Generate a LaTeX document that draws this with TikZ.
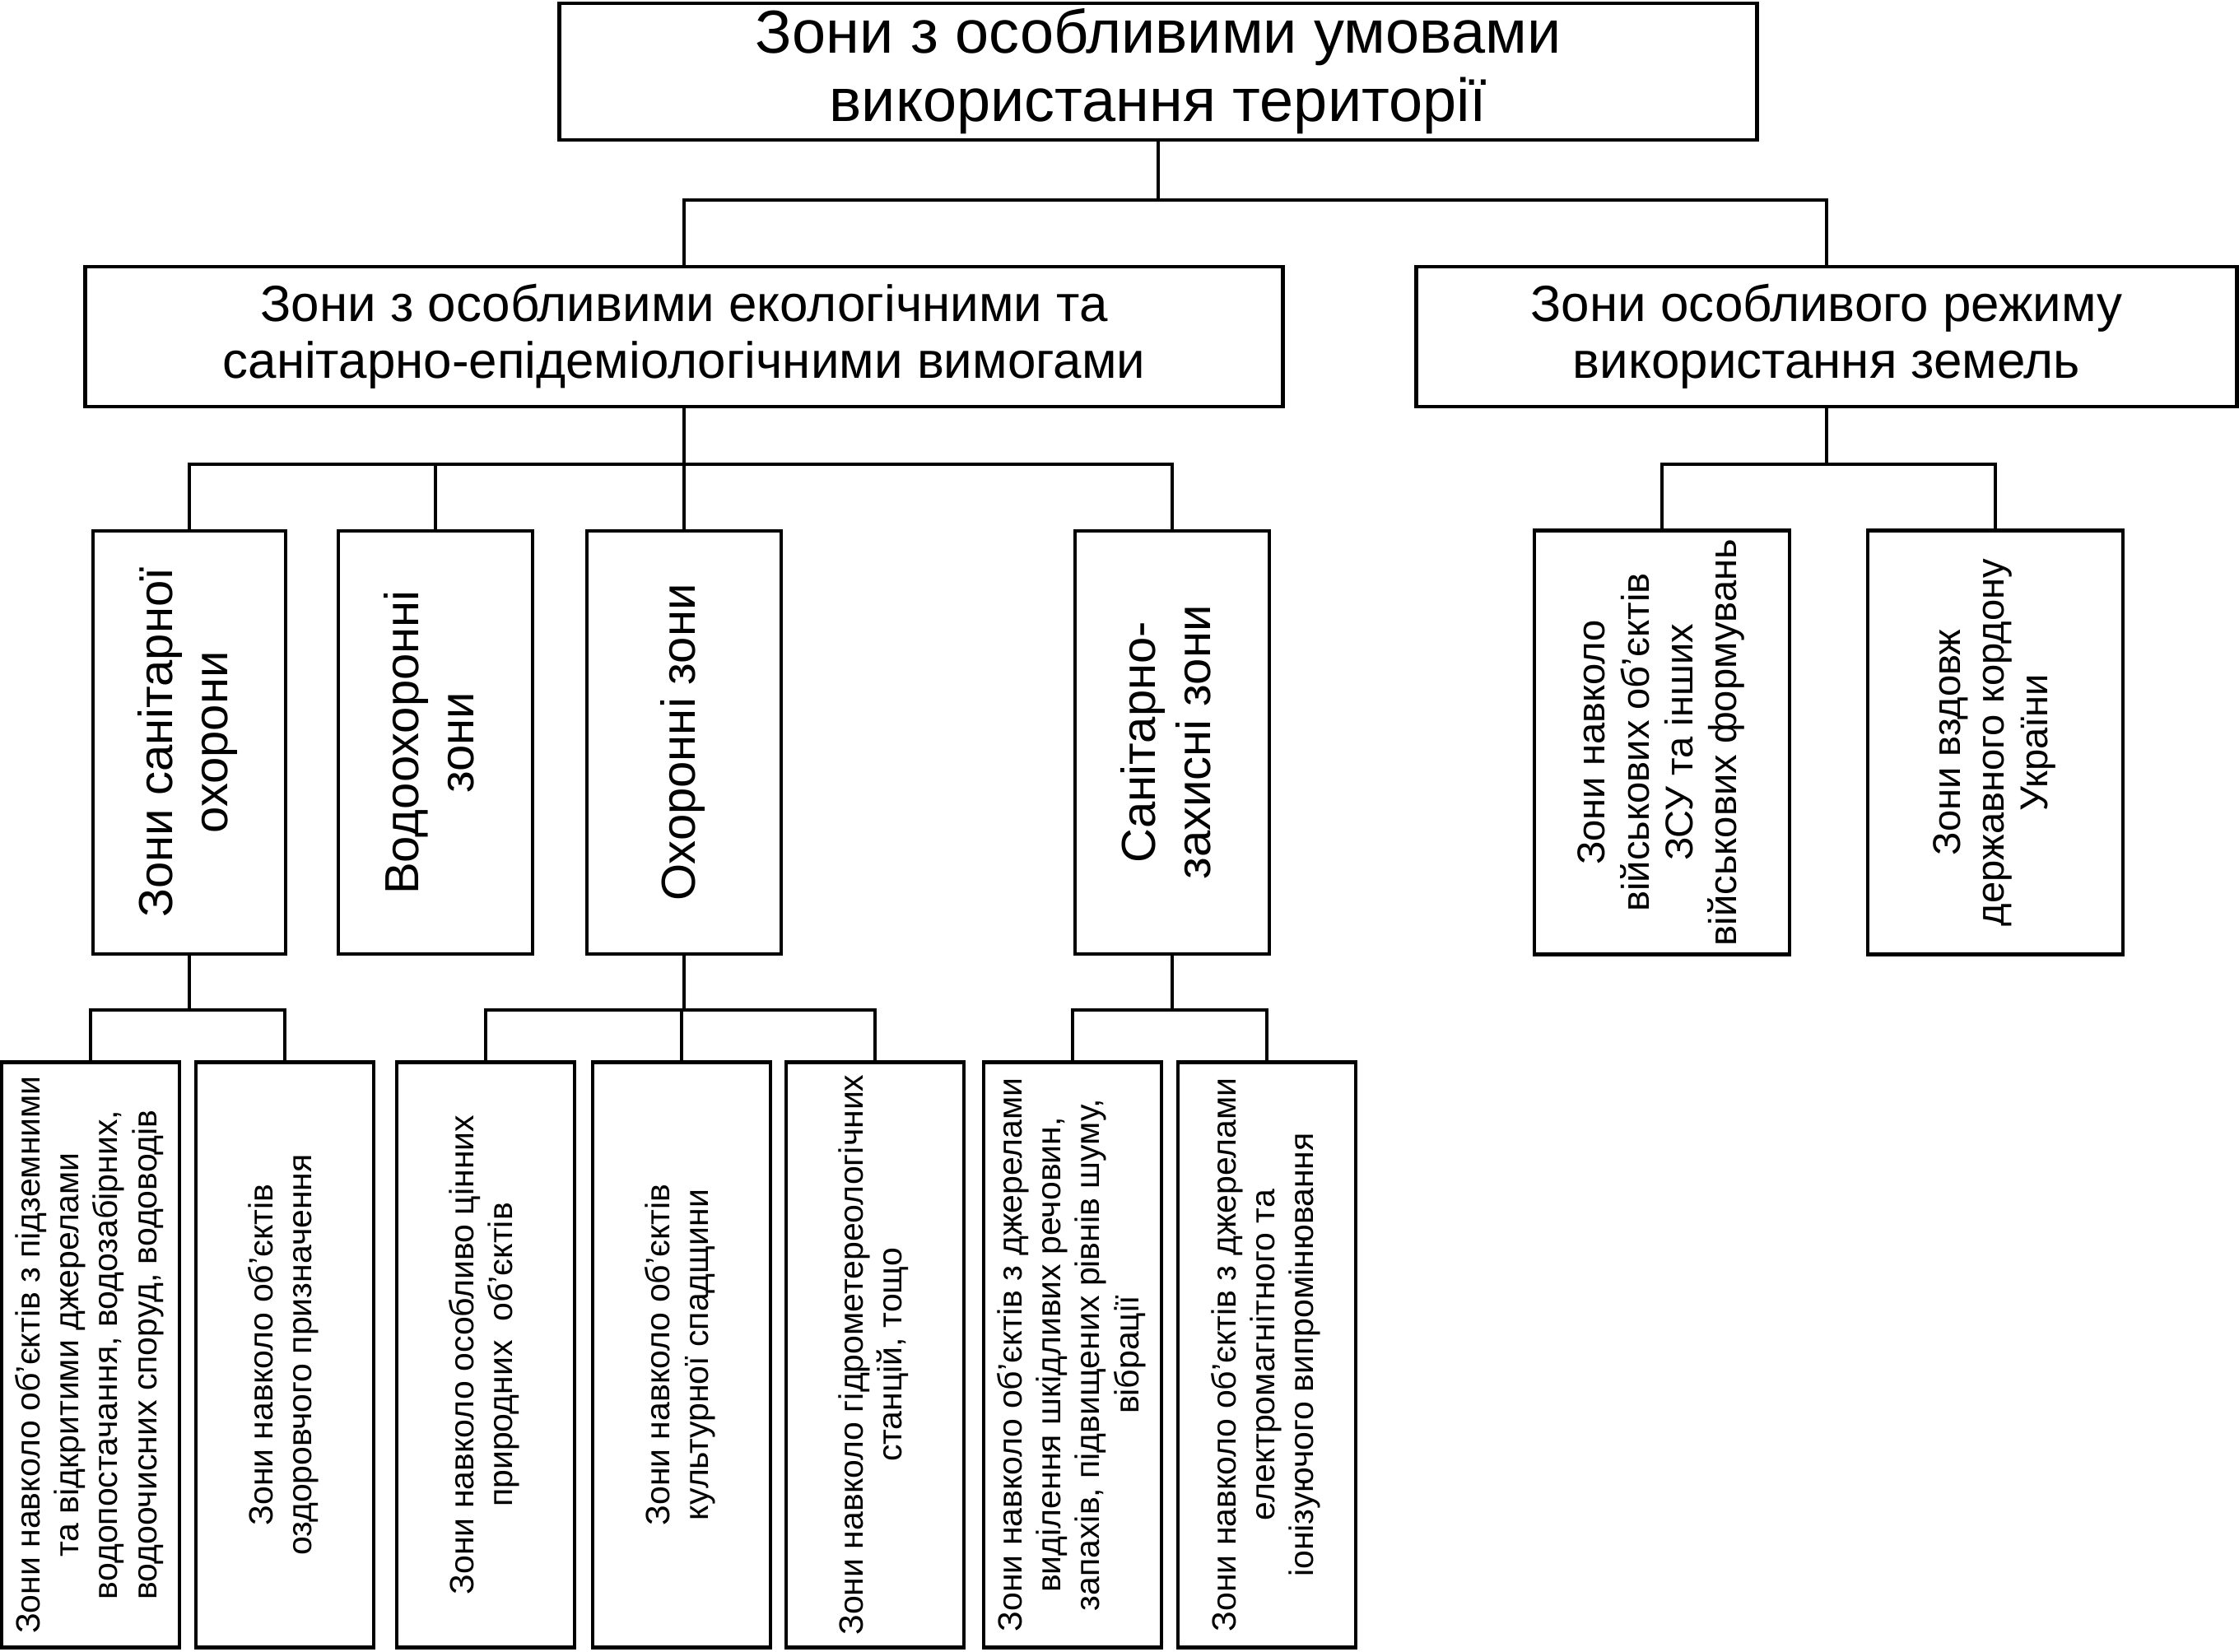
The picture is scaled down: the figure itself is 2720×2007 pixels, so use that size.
\documentclass[tikz,border=0pt]{standalone}
\usepackage{fontspec}
\setmainfont{Liberation Sans}
\usepackage{graphicx}
\newcommand\vtext[1]{\rotatebox{90}{\begin{tabular}{@{}c@{}}#1\end{tabular}}}
\begin{document}
\begin{tikzpicture}[x=0.01cm,y=-0.01cm,
  box/.style={draw, line width=1.3pt, inner sep=0pt, align=center, rectangle},
  conn/.style={line width=0.9pt},
  fA/.style={font=\fontsize{21}{23.6}\selectfont},
  fB/.style={font=\fontsize{17.6}{19.6}\selectfont},
  fC/.style={font=\fontsize{16.5}{19}\selectfont},
  fD/.style={font=\fontsize{13.4}{15.1}\selectfont},
  fE/.style={font=\fontsize{11.66}{13.4}\selectfont},
  lvthree/.style={box, fC, minimum width=2.36cm, minimum height=5.14cm},
  lvright/.style={box, fD, minimum width=3.1cm, minimum height=5.15cm},
  lvfour/.style={box, fE, minimum width=2.16cm, minimum height=7.11cm}]
\useasboundingbox (0,0) rectangle (2720,2007);
\fill[white] (0,0) rectangle (2720,2007);

\node[box, fA, minimum width=14.54cm, minimum height=1.66cm] (top) at (1407,87) {Зони з особливими умовами\\використання території};
\node[box, fB, minimum width=14.54cm, minimum height=1.70cm] (eco) at (831,409) {Зони з особливими екологічними та\\санітарно-епідеміологічними вимогами};
\node[box, fB, minimum width=9.96cm, minimum height=1.70cm] (osob) at (2219,409) {Зони особливого режиму\\використання земель};

\node[lvthree, minimum width=2.34cm] (b1) at (230,902) {\vtext{Зони санітарної\\охорони}};
\node[lvthree] (b2) at (529,902) {\vtext{Водоохоронні\\зони}};
\node[lvthree] (b3) at (831,902) {\vtext{Охоронні зони}};
\node[lvthree] (b4) at (1424,902) {\vtext{Санітарно-\\захисні зони}};

\node[lvright] (r1) at (2019,902) {\vtext{Зони навколо\\військових об’єктів\\ЗСУ та інших\\військових формувань}};
\node[lvright] (r2) at (2424,902) {\vtext{Зони вздовж\\державного кордону\\України}};

\node[lvfour] (A) at (110,1646) {\vtext{Зони навколо об’єктів з підземними\\та відкритими джерелами\\водопостачання, водозабірних,\\водоочисних споруд, водоводів}};
\node[lvfour] (B) at (346,1646) {\vtext{Зони навколо об’єктів\\оздоровчого призначення}};
\node[lvfour] (C) at (590,1646) {\vtext{Зони навколо особливо цінних\\природних\ \ об’єктів}};
\node[lvfour] (D) at (828,1646) {\vtext{Зони навколо об’єктів\\культурної спадщини}};
\node[lvfour] (E) at (1063,1646) {\vtext{Зони навколо гідрометереологічних\\станцій, тощо}};
\node[lvfour] (F) at (1303,1646) {\vtext{Зони навколо об’єктів з джерелами\\виділення шкідливих речовин,\\запахів, підвищених рівнів шуму,\\вібрації}};
\node[lvfour] (G) at (1539,1646) {\vtext{Зони навколо об’єктів з джерелами\\електромагнітного та\\іонізуючого випромінювання}};

\coordinate (bus1) at (1407,243);
\coordinate (bus2) at (831,564);
\coordinate (bus3) at (2219,564);
\coordinate (bus4) at (230,1227);
\coordinate (bus5) at (831,1227);
\coordinate (bus6) at (1424,1227);

\draw[conn] (top.south) -- (bus1);
\draw[conn] (eco.north) |- (bus1) -| (osob.north);

\draw[conn] (eco.south) -- (bus2);
\draw[conn] (b1.north) |- (bus2) -| (b4.north);
\draw[conn] (b2.north) -- (b2.north |- bus2);
\draw[conn] (b3.north) -- (bus2);

\draw[conn] (osob.south) -- (bus3);
\draw[conn] (r1.north) |- (bus3) -| (r2.north);

\draw[conn] (b1.south) -- (bus4);
\draw[conn] (A.north) |- (bus4) -| (B.north);

\draw[conn] (b3.south) -- (bus5);
\draw[conn] (C.north) |- (bus5) -| (E.north);
\draw[conn] (D.north) -- (D.north |- bus5);

\draw[conn] (b4.south) -- (bus6);
\draw[conn] (F.north) |- (bus6) -| (G.north);
\end{tikzpicture}
\end{document}
